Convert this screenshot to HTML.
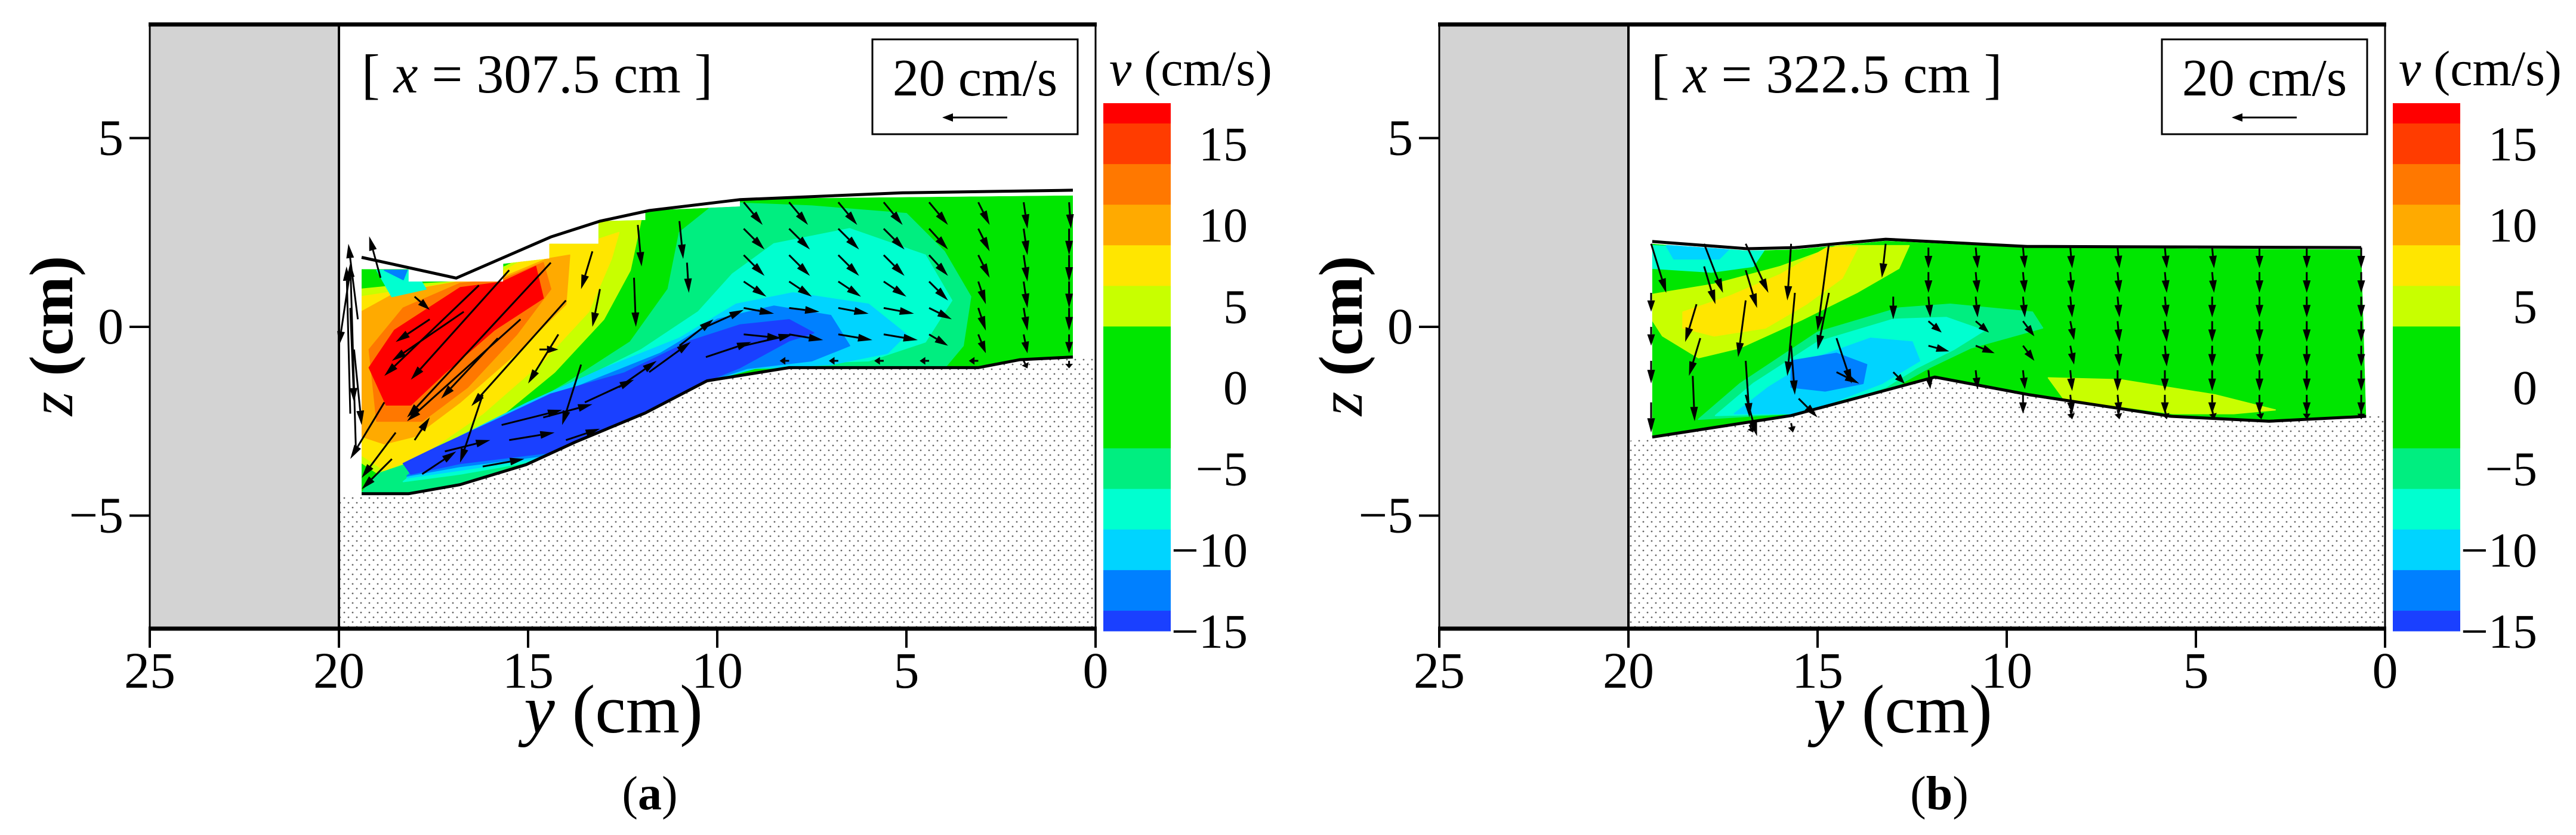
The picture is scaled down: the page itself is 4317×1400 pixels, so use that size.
<!DOCTYPE html>
<html><head><meta charset="utf-8">
<style>
html,body{margin:0;padding:0;background:#fff;}
svg{display:block;}
svg text{font-family:"Liberation Serif","Times New Roman","DejaVu Serif",serif;fill:#000;}
</style></head>
<body>
<svg id="fig" width="4317" height="1400" viewBox="0 0 4317 1400" xmlns="http://www.w3.org/2000/svg" font-family="Liberation Serif, serif">
<defs>
<pattern id="sand" width="14" height="16" patternUnits="userSpaceOnUse">
<rect width="14" height="16" fill="#fff"/>
<circle cx="3" cy="3" r="1.4" fill="#666"/>
<circle cx="10" cy="11" r="1.4" fill="#666"/>
</pattern>
</defs>
</svg>
<script>
// ===== DATA =====
const zTicks = [5, 0, -5];
const yTicks = [25, 20, 15, 10, 5, 0];
const cbLabels = [15, 10, 5, 0, -5, -10, -15];
const cbLevels = [17.5, 16.25, 13.75, 11.25, 8.75, 6.25, 3.75, 1.25, -1.25, -3.75, -6.25, -8.75, -11.25, -13.75, -15];
const cbColors = ["#ff0000","#ff3c00","#ff7800","#ffaa00","#ffe600","#c8ff00","#00e600","#00e600","#00e600","#00ee80","#00ffd0","#00d4ff","#0080ff","#1a40ff"];
const panelTitles = ["[ x = 307.5 cm ]", "[ x = 322.5 cm ]"];
const panelLetters = ["a", "b"];

// panel a boundaries (y cm, z cm)
const topLineA = [[19.4,1.84],[16.9,1.29],[14.4,2.38],[13.1,2.8],[11.8,3.08],[9.4,3.37],[5.1,3.55],[0.6,3.62]];
const bedLineA = [[19.4,-4.42],[18.16,-4.42],[16.8,-4.18],[15.05,-3.65],[13.75,-3.05],[11.9,-2.28],[10.27,-1.43],[8.1,-1.08],[3.1,-1.08],[2.0,-0.87],[0.6,-0.8]];
const fieldTopA = [[19.4,1.53],[18.16,1.53],[18.16,1.2],[15.66,1.2],[15.66,1.67],[14.44,1.81],[14.44,2.2],[13.14,2.2],[13.14,2.8],[11.9,2.83],[11.9,3.08],[9.4,3.19],[9.4,3.39],[0.6,3.48]];
const regionsA = [
 {v:5, pts:[[19.4,-3.6],[19.4,1.0],[18.4,1.1],[16.8,1.2],[15.6,1.6],[14.4,2.2],[13.1,2.8],[12.0,2.9],[12.3,1.5],[13.0,0.2],[14.3,-1.2],[16.0,-2.6],[17.6,-3.7],[18.8,-4.0]]},
 {v:7.5, pts:[[19.4,-3.4],[19.4,0.8],[18.4,0.95],[16.8,1.2],[15.6,1.5],[14.4,2.2],[13.2,2.3],[12.6,2.5],[12.8,1.8],[13.4,0.4],[14.6,-0.9],[16.2,-2.3],[17.8,-3.4],[18.8,-3.8]]},
 {v:10, pts:[[19.4,-2.9],[19.4,0.4],[18.5,0.9],[16.8,1.2],[15.7,1.3],[14.5,1.8],[13.9,1.9],[14.0,0.6],[15.2,-0.6],[16.8,-2.0],[18.0,-2.9],[18.8,-3.1]]},
 {v:12.5, pts:[[19.0,-2.5],[19.2,-0.6],[18.3,0.5],[16.8,1.15],[15.7,1.25],[14.6,1.7],[14.4,1.0],[15.3,-0.2],[16.6,-1.6],[17.8,-2.5]]},
 {v:17, pts:[[18.75,-2.07],[19.2,-1.08],[18.53,-0.09],[16.79,1.04],[15.7,1.18],[14.8,1.6],[14.6,0.76],[15.9,-0.09],[17.2,-1.22],[18.1,-2.07]]},
 {v:-5, pts:[[19.4,-4.4],[18.1,-4.4],[16.8,-4.2],[15,-3.7],[13.7,-3.1],[11.9,-2.3],[10.3,-1.4],[9,-1.1],[4,-1.1],[3.5,-0.5],[3.3,0.8],[4,2],[5,3.0],[7.5,3.2],[10,3.3],[11,2.5],[11.3,1.0],[12.3,-0.4],[14,-1.5],[15.7,-2.5],[17.5,-3.4],[19.0,-3.9]]},
 {v:-7.5, pts:[[18.3,-4.1],[16.8,-3.9],[14.5,-3.5],[11.9,-2.3],[10.3,-1.4],[9,-1.0],[6,-0.9],[4.5,-0.4],[3.8,0.7],[4.5,1.9],[6.5,2.6],[8.5,2.2],[9.6,1.4],[10.5,0.4],[12,-0.6],[14,-1.6],[15.8,-2.6],[17.4,-3.4]]},
 {v:-10, pts:[[18.2,-4.0],[16.8,-3.8],[14.5,-3.45],[11.9,-2.35],[10.3,-1.45],[9,-1.1],[7,-1.0],[5.5,-0.7],[5.0,-0.2],[6.0,0.6],[8.0,0.9],[9.5,0.6],[11,-0.3],[13,-1.1],[15,-2.0],[16.8,-2.9],[17.8,-3.5]]},
 {v:-12.5, pts:[[18.2,-3.95],[16.8,-3.7],[14.5,-3.4],[11.9,-2.35],[10.3,-1.45],[9.2,-1.1],[7.5,-0.9],[6.5,-0.5],[7.0,0.3],[8.5,0.55],[10,0.2],[11.5,-0.7],[13.5,-1.5],[15.4,-2.3],[17.2,-3.1]]},
 {v:-15, pts:[[18.1,-3.9],[16.8,-3.62],[14.5,-3.34],[11.9,-2.35],[10.27,-1.43],[9.4,-1.08],[8.1,-0.37],[7.45,-0.16],[8.1,0.19],[9.4,0.05],[10.7,-0.37],[12.45,-1.22],[14.4,-1.78],[15.9,-2.49],[17.44,-3.2],[18.3,-3.62]]},
 {v:-7.5, pts:[[19.0,1.5],[18.0,1.5],[17.7,1.0],[18.6,0.8]]},
 {v:-12.5, pts:[[18.8,1.5],[18.2,1.5],[18.3,1.25]]}
];
// arrows: [y, z, u (screen-right cm), w (up cm)]
const arrowsA = [
 [19.55,-3.3,-0.15,5.0],[19.7,-2.3,-0.1,3.9],[19.5,0.2,-0.25,2.0],[18.9,1.3,-0.3,1.1],
 [19.7,1.5,-0.3,-2.0],[19.7,0.5,0.1,-2.5],[19.6,-0.6,0.2,-2.0],
 [16.3,1.1,-2.5,-2.4],[15.5,1.5,-2.6,-2.9],[14.4,1.7,-3.8,-4.1],[14.0,0.7,-2.5,-2.8],[15.2,0.2,-3.0,-2.7],
 [16.7,0.4,-1.9,-1.3],[17.6,0.2,-0.9,-0.6],[15.8,-0.3,-1.5,-1.6],[14.2,-0.2,-0.8,-1.3],[13.6,-1.0,-0.5,-1.6],
 [16.2,-1.8,-0.6,-1.8],[18.0,0.8,0.4,-0.35],[14.7,-0.6,0.5,0],
 [18.8,-2.0,-0.9,-1.5],[18.5,-2.8,-0.9,-1.2],[18.6,-3.5,-0.8,-0.8],
 [17.8,-3.9,0.9,0.6],[17.2,-3.3,1.2,0.3],[15.5,-3.0,1.2,0.2],[15.7,-2.6,1.6,0.4],[14.6,-2.4,1.3,0.35],
 [13.5,-2.0,1.3,0.6],[12.6,-1.6,1.0,0.7],[11.8,-1.2,1.1,0.8],[11.0,-0.5,0.9,0.7],[10.3,0.0,1.0,0.45],
 [10.3,-0.8,1.2,0.4],[9.3,-0.5,1.3,0.3],[16.2,-3.7,1.1,0.2],[18.0,-3.0,0.4,0.6],[14.0,-3.0,0.9,0.3],
 [12.1,2.7,0.1,-1.1],[12.2,1.3,0.05,-1.3],[11.0,2.8,0.1,-1.0],[10.8,1.7,0.05,-0.8],[13.3,2.0,-0.3,-1.0],[13.1,1.0,-0.2,-1.0]
];
const gridYA = [9.3,8.1,6.8,5.6,4.4,3.1,1.9,0.7];
const gridZA = [3.3,2.6,1.9,1.2,0.5,-0.2,-0.9];
const gridUA = [
 [0.5,0.5,0.5,0.5,0.5,0.3,0.1,0.05],
 [0.55,0.55,0.55,0.55,0.5,0.3,0.1,0],
 [0.55,0.55,0.55,0.55,0.5,0.3,0.1,0],
 [0.6,0.6,0.6,0.6,0.5,0.2,0.1,0],
 [0.8,0.8,0.8,0.8,0.6,0.2,0.1,0],
 [1.0,0.9,0.9,0.9,0.5,0.2,0.1,0],
 [null,-0.25,-0.25,-0.25,-0.25,-0.25,0.1,0]
];
const gridWA = [
 [-0.6,-0.6,-0.6,-0.6,-0.6,-0.6,-0.7,-0.7],
 [-0.55,-0.55,-0.55,-0.55,-0.55,-0.6,-0.7,-0.7],
 [-0.55,-0.55,-0.55,-0.55,-0.55,-0.6,-0.7,-0.7],
 [-0.4,-0.4,-0.4,-0.4,-0.5,-0.6,-0.7,-0.7],
 [-0.15,-0.1,-0.15,-0.15,-0.3,-0.6,-0.6,-0.6],
 [-0.1,-0.15,-0.15,-0.15,-0.3,-0.5,-0.5,-0.5],
 [null,0,0,0,0,0,-0.2,-0.2]
];

// panel b
const topLineB = [[19.37,2.26],[16.86,2.07],[15.6,2.1],[13.2,2.32],[9.46,2.13],[0.63,2.1]];
const bedLineB = [[19.37,-2.92],[15.7,-2.35],[11.9,-1.33],[9.4,-1.8],[5.66,-2.37],[3.07,-2.5],[0.5,-2.37]];
const fieldTopB = [[19.37,2.2],[16.86,2.02],[15.6,2.05],[13.2,2.28],[9.46,2.1],[0.63,2.05]];
const regionsB = [
 {v:-7.5, pts:[[19.37,2.15],[16.4,2.05],[16.7,1.6],[17.8,1.45],[19.37,1.55]]},
 {v:-10, pts:[[19.0,2.15],[17.3,2.1],[17.6,1.8],[18.8,1.8]]},
 {v:5, pts:[[19.37,0.86],[17.74,1.13],[15.98,1.6],[14.48,2.15],[12.58,2.15],[12.85,1.55],[13.94,0.92],[15.43,0.18],[17.06,-0.56],[18.15,-0.82],[19.1,-0.24],[19.37,0.18]]},
 {v:7.5, pts:[[18.56,0.39],[17.33,0.81],[15.98,1.39],[14.75,2.1],[13.94,2.1],[14.35,1.29],[15.3,0.6],[16.38,-0.03],[17.74,-0.24],[18.56,-0.03]]},
 {v:-5, pts:[[18.15,-2.45],[17.06,-1.51],[15.0,-0.14],[12.85,0.5],[11.49,0.6],[9.32,0.39],[9.05,-0.03],[10.95,-0.56],[12.04,-1.08],[12.99,-1.61],[14.62,-2.08],[15.7,-2.3]]},
 {v:-7.5, pts:[[17.7,-2.35],[16.7,-1.5],[15.0,-0.4],[13.0,0.2],[11.6,0.25],[10.6,-0.1],[11.4,-0.6],[12.4,-1.1],[13.2,-1.6],[14.6,-2.05],[15.7,-2.3]]},
 {v:-10, pts:[[17.2,-2.3],[16.3,-1.6],[15.0,-0.8],[13.6,-0.3],[12.5,-0.4],[12.3,-0.9],[13.3,-1.5],[14.6,-2.0],[15.7,-2.3]]},
 {v:-12.5, pts:[[15.7,-0.9],[14.5,-0.7],[13.7,-1.0],[13.8,-1.5],[14.8,-1.7],[15.7,-1.6]]},
 {v:5, pts:[[8.9,-1.35],[7,-1.4],[4.5,-1.8],[2.9,-2.2],[4,-2.3],[5.6,-2.3],[8.5,-1.9]]}
];
const arrowsB = [
 [19.4,2.2,0.4,-1.3],[19.4,0.9,0,-0.5],[19.4,0.0,0,-0.5],[19.4,-0.9,0,-0.6],[19.4,-2.0,0,-0.8],
 [18.0,2.2,0.5,-1.3],[18.0,1.6,0.3,-1.0],[18.2,0.6,-0.3,-1.0],[18.1,-0.3,-0.3,-1.0],[18.3,-1.3,0.05,-1.2],
 [16.9,2.2,0.6,-1.3],[16.9,1.5,0.3,-1.0],[16.9,0.7,-0.2,-1.5],[16.9,-0.9,0.1,-1.5],[16.9,-1.8,0.3,-1.1],
 [15.7,2.2,-0.1,-1.5],[15.6,0.9,-0.2,-2.2],[15.7,-0.5,0.1,-1.3],[15.5,-1.9,0.5,-0.5],
 [14.7,2.2,-0.3,-2.3],[14.7,0.9,-0.3,-1.5],[14.5,-0.3,0.4,-1.2],[14.5,-1.2,0.6,-0.3],
 [13.2,2.2,-0.1,-0.9],[13.0,0.8,0,-0.6],[13.0,-1.2,0.3,-0.3],[16.8,-2.6,0.1,-0.2],[15.7,-2.55,0.05,-0.25]
];
const gridYB = [12.07,10.82,9.57,8.32,7.07,5.82,4.57,3.32,2.07,0.63];
const gridZB = [2.1,1.45,0.8,0.15,-0.5,-1.15,-1.8,-2.2];
const gridUB = [
 [0,0.05,0.05,0.05,0.05,0.05,0.05,0,0,0],
 [0,0.05,0.05,0.05,0.05,0.05,0.05,0,0,0],
 [0.05,0.05,0.05,0.05,0.05,0.05,0,0,0,0],
 [0.35,0.35,0.3,0.1,0.05,0.05,0,0,0,0],
 [0.55,0.5,0.3,0.1,0.05,0.05,0,0,0,0],
 [0.05,0.05,0.05,0.05,0,0,0,0,0,0],
 [null,null,0,0.05,0.05,0,0,0,0,0],
 [null,null,null,0.05,0.05,0.05,0.05,0.05,0,0]
];
const gridWB = [
 [-0.55,-0.55,-0.55,-0.55,-0.55,-0.55,-0.55,-0.55,-0.55,-0.55],
 [-0.55,-0.55,-0.55,-0.55,-0.55,-0.55,-0.55,-0.55,-0.55,-0.55],
 [-0.55,-0.55,-0.55,-0.55,-0.55,-0.55,-0.55,-0.55,-0.55,-0.55],
 [-0.3,-0.3,-0.4,-0.5,-0.55,-0.55,-0.55,-0.55,-0.55,-0.55],
 [-0.15,-0.2,-0.4,-0.5,-0.55,-0.55,-0.55,-0.55,-0.55,-0.55],
 [-0.5,-0.5,-0.5,-0.55,-0.55,-0.55,-0.55,-0.55,-0.55,-0.55],
 [null,null,-0.5,-0.5,-0.5,-0.5,-0.5,-0.5,-0.5,-0.5],
 [null,null,null,-0.25,-0.25,-0.25,-0.25,-0.25,-0.25,-0.25]
];

// ===== LAYOUT =====
const NS = "http://www.w3.org/2000/svg";
const svg = document.getElementById('fig');
const PX_Y = 63.4, PX_Z = 63.3, Z0 = 548;
const panelRight = [1836, 3997];
const plotTop = 41, plotBot = 1054;
const SERIF = '"Liberation Serif", "Times New Roman", serif';
function X(p, y){ return panelRight[p] - y*PX_Y; }
function Z(z){ return Z0 - z*PX_Z; }
function mk(tag, attrs, parent){
  const e = document.createElementNS(NS, tag);
  for (const k in attrs) e.setAttribute(k, attrs[k]);
  if (tag === 'text') e.setAttribute('font-family', SERIF);
  (parent||svg).appendChild(e);
  return e;
}
function colorFor(v){
  for (let i=0;i<cbColors.length;i++){ if (v > cbLevels[i+1]) return cbColors[i]; }
  return cbColors[cbColors.length-1];
}
function ptsStr(p, arr){ return arr.map(a=>X(p,a[0]).toFixed(1)+','+Z(a[1]).toFixed(1)).join(' '); }

function drawArrow(g, p, y, z, u, w){
  const x0 = X(p,y), y0 = Z(z);
  const x1 = x0 + u*PX_Y, y1 = y0 - w*PX_Z;
  const dx = x1-x0, dy = y1-y0, L = Math.hypot(dx,dy);
  if (L < 1) return;
  const ux = dx/L, uy = dy/L;
  const hl = Math.min(24, L*0.6), hw = 6.5;
  const bx = x1 - ux*hl, by = y1 - uy*hl;
  const line = mk('line',{x1:x0,y1:y0,x2:bx,y2:by,stroke:'#000','stroke-width':3},g);
  
  
  const head = mk('polygon',{points:`${x1},${y1} ${bx-uy*hw},${by+ux*hw} ${bx+uy*hw},${by-ux*hw}`,fill:'#000'},g);
  
  
}

function drawPanel(p, d){
  const L = X(p,25), R = X(p,0), W = X(p,20);
  const g = mk('g',{});
  
  
  const wall = mk('rect',{x:L,y:plotTop,width:W-L,height:plotBot-plotTop,fill:'#d3d3d3'},g);
  
  
  const bed = d.bed;
  const sandPts = [[20,bed[0][1]-0.1]].concat(bed).concat([[0,bed[bed.length-1][1]],[0,-8],[20,-8]]);
  const sand = mk('polygon',{points:ptsStr(p,sandPts),fill:'url(#sand)'},g);
  
  
  const fieldPts = d.ftop.concat(bed.slice().reverse());
  const clipId = 'clip'+p;
  const cp = mk('clipPath',{id:clipId},g);
  mk('polygon',{points:ptsStr(p,fieldPts)},cp);
  const fg = mk('g',{'clip-path':`url(#${clipId})`},g);
  
  
  const base = mk('polygon',{points:ptsStr(p,fieldPts),fill:colorFor(0)},fg);
  
  
  d.regions.forEach(r=>{
    const poly = mk('polygon',{points:ptsStr(p,r.pts),fill:colorFor(r.v),'stroke':colorFor(r.v),'stroke-width':2,'stroke-linejoin':'round'},fg);
    
    
  });
  const top = mk('polyline',{points:ptsStr(p,d.top),fill:'none',stroke:'#000','stroke-width':5},g);
  
  
  const bl = mk('polyline',{points:ptsStr(p,bed),fill:'none',stroke:'#000','stroke-width':5},g);
  
  
  const ag = mk('g',{},g);
  
  
  d.arrows.forEach(a=>drawArrow(ag,p,a[0],a[1],a[2],a[3]));
  d.gz.forEach((z,i)=>d.gy.forEach((y,j)=>{
    const u = d.gu[i][j], w = d.gw[i][j];
    if (u===null || w===null) return;
    drawArrow(ag,p,y,z,u,w);
  }));
  const wl = mk('line',{x1:W,y1:plotTop,x2:W,y2:plotBot,stroke:'#000','stroke-width':4},g);
  
  
  const fr = mk('rect',{x:L,y:plotTop,width:R-L,height:plotBot-plotTop,fill:'none',stroke:'#000','stroke-width':3},g);
  
  
  mk('line',{x1:L-2,y1:plotTop,x2:R+2,y2:plotTop,stroke:'#000','stroke-width':7},g);
  mk('line',{x1:L-2,y1:plotBot,x2:R+2,y2:plotBot,stroke:'#000','stroke-width':7},g);
  yTicks.forEach(t=>{
    const x = X(p,t);
    const tk = mk('line',{x1:x,y1:plotBot,x2:x,y2:plotBot+32,stroke:'#000','stroke-width':4},g);
    
    
    const tl = mk('text',{x:x,y:1153,'font-size':86,'text-anchor':'middle'},g);
    tl.textContent = String(t);
    
    
  });
  zTicks.forEach(t=>{
    const y = Z(t);
    const tk = mk('line',{x1:L-34,y1:y,x2:L,y2:y,stroke:'#000','stroke-width':4},g);
    
    
    const tl = mk('text',{x:L-44,y:y+28,'font-size':86,'text-anchor':'end'},g);
    tl.textContent = t<0 ? '\u2212'+Math.abs(t) : String(t);
    
    
  });
  const zt = mk('text',{x:0,y:0,'font-size':104,'text-anchor':'middle',transform:`translate(${L-130},563) rotate(-90)`},g);
  zt.innerHTML = '<tspan font-style="italic">z</tspan><tspan font-weight="bold"> (cm)</tspan>';
  
  
  const yt = mk('text',{x:L+777,y:1228,'font-size':116,'text-anchor':'middle'},g);
  yt.innerHTML = '<tspan font-style="italic">y</tspan> (cm)';
  
  
  const pl = mk('text',{x:L+838,y:1357,'font-size':80,'text-anchor':'middle'},g);
  pl.innerHTML = '(<tspan font-weight="bold">'+panelLetters[p]+'</tspan>)';
  
  
  const tt = mk('text',{x:L+355,y:155,'font-size':92},g);
  const parts = panelTitles[p].split('x');
  tt.innerHTML = parts[0]+'<tspan font-style="italic">x</tspan>'+parts[1];
  
  
  const bx = L+1211;
  const box = mk('rect',{x:bx,y:66,width:344,height:159,fill:'#fff',stroke:'#000','stroke-width':3},g);
  
  
  const bt = mk('text',{x:bx+172,y:160,'font-size':88,'text-anchor':'middle'},g);
  bt.textContent = '20 cm/s';
  
  
  const ra = mk('line',{x1:bx+226,y1:197,x2:bx+130,y2:197,stroke:'#000','stroke-width':3},g);
  
  
  mk('polygon',{points:`${bx+117},197 ${bx+135},190 ${bx+135},204`,fill:'#000'},g);
  const cbx = R+13, cbw = 113, cbTop = 173, cbBot = 1058;
  const cz = v => cbTop + (cbLevels[0]-v)/(cbLevels[0]-cbLevels[cbLevels.length-1])*(cbBot-cbTop);
  const cg = mk('g',{},g);
  
  
  cbColors.forEach((c,i)=>{
    const y0 = cz(cbLevels[i]), y1 = cz(cbLevels[i+1]);
    const r = mk('rect',{x:cbx,y:y0,width:cbw,height:y1-y0+0.5,fill:c},cg);
    
    
  });
  cbLabels.forEach(v=>{
    const t = mk('text',{x:cbx+242,y:cz(v)+28,'font-size':82,'text-anchor':'end'},cg);
    t.textContent = v<0 ? '\u2212'+Math.abs(v) : String(v);
    
    
  });
  const ct = mk('text',{x:cbx+10,y:143,'font-size':84},cg);
  ct.innerHTML = '<tspan font-style="italic">v</tspan> (cm/s)';
  
  
}

drawPanel(0,{top:topLineA,bed:bedLineA,ftop:fieldTopA,regions:regionsA,arrows:arrowsA,gy:gridYA,gz:gridZA,gu:gridUA,gw:gridWA});
drawPanel(1,{top:topLineB,bed:bedLineB,ftop:fieldTopB,regions:regionsB,arrows:arrowsB,gy:gridYB,gz:gridZB,gu:gridUB,gw:gridWB});
</script>
</body></html>
